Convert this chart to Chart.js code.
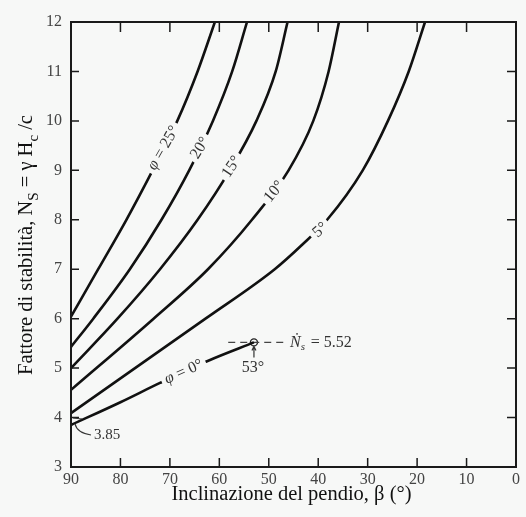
<!DOCTYPE html>
<html>
<head>
<meta charset="utf-8">
<script src="https://cdn.jsdelivr.net/npm/chart.js@4.4.1/dist/chart.umd.min.js"></script>
<style>
  html, body { margin: 0; padding: 0; background: #f7f8f7; }
  #wrap { width: 526px; height: 517px; }
</style>
</head>
<body>
<div id="wrap"><canvas id="chart"></canvas></div>
<script>
// curves: slope angle beta (deg) vs stability number Ns, one per friction angle phi
var beta0  = [90, 80, 72, 62, 53];
var ns0    = [3.85, 4.31, 4.70, 5.16, 5.52];
var beta5  = [90, 62.8, 48.8, 43.2, 38.2, 31.0, 25.9, 21.7, 18.4];
var ns5    = [4.09, 6, 7, 7.5, 8, 9, 10, 11, 12];
var beta10 = [90, 73.3, 62.3, 53.4, 46.0, 41.0, 37.9, 35.8];
var ns10   = [4.56, 6, 7, 8, 9, 10, 11, 12];
var beta15 = [90, 80.6, 72, 64.4, 57.9, 52.5, 48.6, 46.2];
var ns15   = [5.0, 6, 7, 8, 9, 10, 11, 12];
var beta20 = [90, 85.5, 78.1, 71.7, 66.1, 61.3, 57.4, 54.4];
var ns20   = [5.43, 6, 7, 8, 9, 10, 11, 12];
var beta25 = [90, 84.5, 78.8, 73.5, 68.5, 64.4, 60.9];
var ns25   = [6.04, 7, 8, 9, 10, 11, 12];

// critical point of the phi = 0 curve and its dashed reference line
var critBeta = [53];
var critNs   = [5.52];
var dashBeta = [58.2, 46.5];

var xTicks = [90, 80, 70, 60, 50, 40, 30, 20, 10, 0];
var yTicks = [3, 4, 5, 6, 7, 8, 9, 10, 11, 12];

// labels sitting on the curves
var curveLabels = [
  { beta: 71.3, ns: 9.45, angle: -60, parts: [['φ', true], [' = 25°', false]] },
  { beta: 63.9, ns: 9.45, angle: -58, parts: [['20°', false]] },
  { beta: 57.5, ns: 9.07, angle: -56, parts: [['15°', false]] },
  { beta: 48.9, ns: 8.57, angle: -50, parts: [['10°', false]] },
  { beta: 39.6, ns: 7.79, angle: -40, parts: [['5°', false]] },
  { beta: 67.2, ns: 4.92, angle: -24, parts: [['φ', true], [' = 0°', false]] }
];

var BG = '#f7f8f7';
var SERIF = '"Liberation Serif", "DejaVu Serif", serif';

function pts(bs, ns) {
  return bs.map(function (b, i) { return { x: b, y: ns[i] }; });
}

function curve(bs, ns) {
  return {
    data: pts(bs, ns),
    borderColor: '#111',
    borderWidth: 2.6,
    pointRadius: 0,
    cubicInterpolationMode: 'monotone',
    fill: false
  };
}

var datasets = [
  curve(beta0, ns0), curve(beta5, ns5), curve(beta10, ns10),
  curve(beta15, ns15), curve(beta20, ns20), curve(beta25, ns25),
  {
    data: dashBeta.map(function (b) { return { x: b, y: critNs[0] }; }),
    borderColor: '#444', borderWidth: 1.3, borderDash: [7, 5], pointRadius: 0
  },
  {
    type: 'scatter',
    data: pts(critBeta, critNs),
    pointRadius: 3.5, pointBorderWidth: 1.4,
    pointBorderColor: '#222', pointBackgroundColor: BG
  }
];

function partsWidth(ctx, parts, size) {
  var w = 0;
  parts.forEach(function (p) {
    ctx.font = (p[1] ? 'italic ' : '') + size + 'px ' + SERIF;
    w += ctx.measureText(p[0]).width;
  });
  return w;
}

function drawParts(ctx, parts, size, x, y) {
  parts.forEach(function (p) {
    ctx.font = (p[1] ? 'italic ' : '') + size + 'px ' + SERIF;
    ctx.fillText(p[0], x, y);
    x += ctx.measureText(p[0]).width;
  });
  return x;
}

var overlay = {
  id: 'overlay',
  beforeDraw: function (chart) {
    var ctx = chart.ctx;
    ctx.save();
    ctx.fillStyle = BG;
    ctx.fillRect(0, 0, chart.width, chart.height);
    ctx.restore();
  },
  afterDraw: function (chart) {
    var ctx = chart.ctx, xs = chart.scales.x, ys = chart.scales.y, a = chart.chartArea;
    ctx.save();

    // frame and inward ticks
    ctx.strokeStyle = '#1a1a1a';
    ctx.lineWidth = 2;
    ctx.strokeRect(a.left, a.top, a.right - a.left, a.bottom - a.top);
    ctx.lineWidth = 1.5;
    ctx.beginPath();
    xTicks.forEach(function (v) {
      var p = xs.getPixelForValue(v);
      ctx.moveTo(p, a.bottom); ctx.lineTo(p, a.bottom - 9);
      ctx.moveTo(p, a.top); ctx.lineTo(p, a.top + 10);
    });
    yTicks.forEach(function (v) {
      var p = ys.getPixelForValue(v);
      ctx.moveTo(a.left, p); ctx.lineTo(a.left + 8, p);
      ctx.moveTo(a.right, p); ctx.lineTo(a.right - 9, p);
    });
    ctx.stroke();

    // curve labels with a gap cut into the line
    ctx.textBaseline = 'middle';
    curveLabels.forEach(function (l) {
      var px = xs.getPixelForValue(l.beta), py = ys.getPixelForValue(l.ns);
      var w = partsWidth(ctx, l.parts, 16);
      ctx.save();
      ctx.translate(px, py);
      ctx.rotate(l.angle * Math.PI / 180);
      ctx.fillStyle = BG;
      ctx.fillRect(-w / 2 - 4, -7, w + 8, 14);
      ctx.fillStyle = '#333';
      ctx.textAlign = 'left';
      drawParts(ctx, l.parts, 16, -w / 2, 0);
      ctx.restore();
    });

    // critical point annotation
    var cx = xs.getPixelForValue(critBeta[0]), cy = ys.getPixelForValue(critNs[0]);
    var xEnd = xs.getPixelForValue(dashBeta[1]);
    ctx.fillStyle = '#333';
    ctx.textAlign = 'left';
    ctx.font = 'italic 16px ' + SERIF;
    ctx.fillText('Ṅ', xEnd + 4, cy);
    var nw = ctx.measureText('Ṅ').width;
    ctx.font = 'italic 11px ' + SERIF;
    ctx.fillText('s', xEnd + 4 + nw, cy + 5);
    ctx.font = '16px ' + SERIF;
    ctx.fillText('= 5.52', xEnd + 4 + nw + 10, cy);
    ctx.textAlign = 'center';
    ctx.fillText('53°', cx - 1, cy + 25);
    ctx.strokeStyle = '#333';
    ctx.lineWidth = 1.2;
    ctx.beginPath();
    ctx.moveTo(cx, cy + 15); ctx.lineTo(cx, cy + 5);
    ctx.moveTo(cx - 2, cy + 8); ctx.lineTo(cx, cy + 4); ctx.lineTo(cx + 2, cy + 8);
    ctx.stroke();

    // 3.85 callout
    var y0 = ys.getPixelForValue(ns0[0]), x0 = xs.getPixelForValue(beta0[0]);
    ctx.beginPath();
    ctx.moveTo(x0 + 2, y0 - 7); ctx.lineTo(x0 + 11, y0 - 6);
    ctx.moveTo(x0 + 4, y0 - 1);
    ctx.quadraticCurveTo(x0 + 6, y0 + 8, x0 + 20, y0 + 10);
    ctx.stroke();
    ctx.textAlign = 'left';
    ctx.font = '15px ' + SERIF;
    ctx.fillText('3.85', x0 + 23, y0 + 10);

    // x axis title
    ctx.fillStyle = '#111';
    ctx.textAlign = 'center';
    ctx.font = '20.5px ' + SERIF;
    ctx.fillText('Inclinazione del pendio, β (°)', (a.left + a.right) / 2 - 2, 495);

    // y axis title with subscripts
    var yParts = [['Fattore di stabilità, N', 20.5, 0], ['S', 15, 7], [' = γ H', 20.5, 0], ['c', 15, 7], [' /c', 20.5, 0]];
    var tw = 0;
    yParts.forEach(function (p) { ctx.font = p[1] + 'px ' + SERIF; tw += ctx.measureText(p[0]).width; });
    ctx.save();
    ctx.translate(27, 245);
    ctx.rotate(-Math.PI / 2);
    ctx.textAlign = 'left';
    var tx = -tw / 2;
    yParts.forEach(function (p) {
      ctx.font = p[1] + 'px ' + SERIF;
      ctx.fillText(p[0], tx, p[2]);
      tx += ctx.measureText(p[0]).width;
    });
    ctx.restore();

    ctx.restore();
  }
};

new Chart(document.getElementById('chart').getContext('2d'), {
  type: 'line',
  data: { datasets: datasets },
  options: {
    responsive: true,
    maintainAspectRatio: false,
    animation: false,
    layout: { padding: { top: 22, right: 10, left: 0, bottom: 0 } },
    plugins: { legend: { display: false }, tooltip: { enabled: false } },
    scales: {
      x: {
        type: 'linear', min: 0, max: 90, reverse: true,
        grid: { display: false, drawTicks: false },
        border: { display: false },
        afterBuildTicks: function (s) { s.ticks = xTicks.map(function (v) { return { value: v }; }); },
        ticks: { padding: 3, color: '#444', font: { family: SERIF, size: 16 }, maxRotation: 0 },
        afterFit: function (s) { s.height = 50; }
      },
      y: {
        min: 3, max: 12,
        grid: { display: false, drawTicks: false },
        border: { display: false },
        afterBuildTicks: function (s) { s.ticks = yTicks.map(function (v) { return { value: v }; }); },
        ticks: { padding: 9, color: '#444', font: { family: SERIF, size: 16 } },
        afterFit: function (s) { s.width = 71; }
      }
    }
  },
  plugins: [overlay]
});
</script>
</body>
</html>
